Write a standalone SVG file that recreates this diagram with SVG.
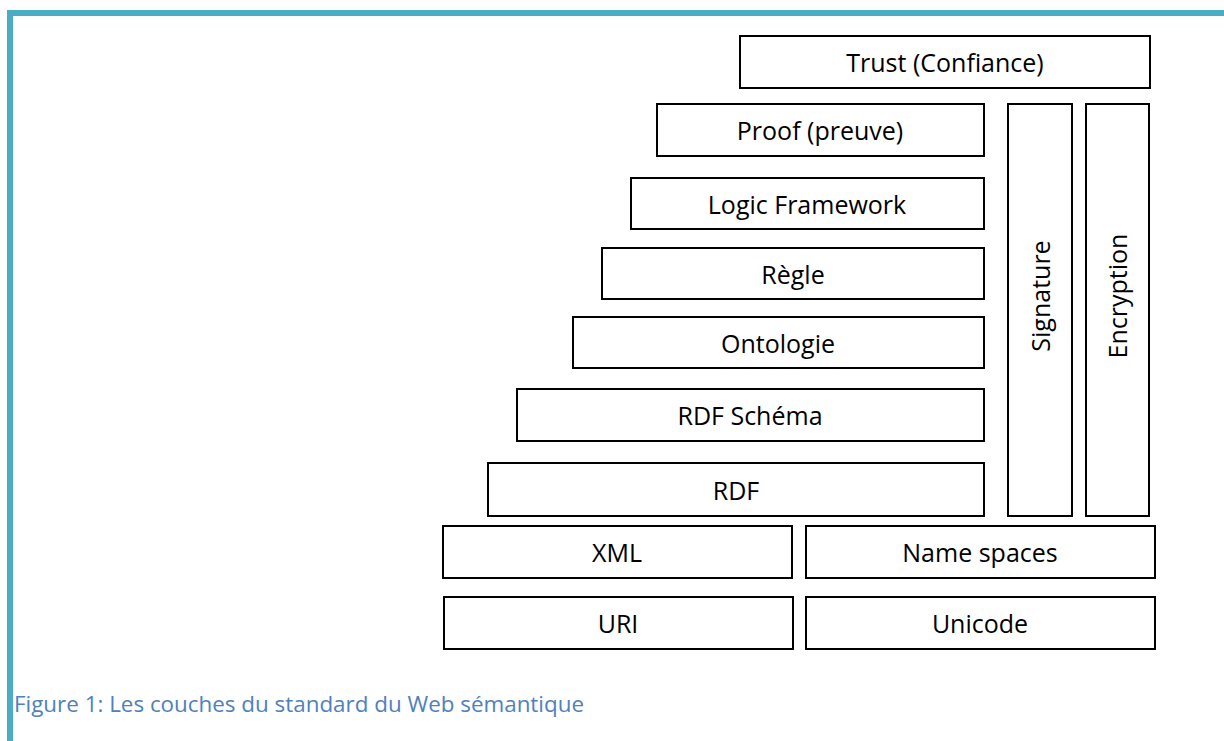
<svg xmlns="http://www.w3.org/2000/svg" width="1224" height="741" viewBox="0 0 1224 741">
<style>
.b{fill:#fff;stroke:#000;stroke-width:2}
.t{font-family:"Open Sans","Liberation Sans",sans-serif;font-size:25px;fill:#000;text-anchor:middle;dominant-baseline:central}
.cap{font-family:"Open Sans","Liberation Sans",sans-serif;font-size:22.4px;fill:#4F81BD}
</style>
<rect x="0" y="0" width="1224" height="741" fill="#fff"/>
<rect x="7" y="10" width="1217" height="6" fill="#4BACC6"/>
<rect x="7" y="10" width="6" height="731" fill="#4BACC6"/>
<g id="trust"><rect class="b" x="740" y="36" width="410" height="52"/><text class="t" x="945" y="62">Trust (Confiance)</text></g>
<g id="proof"><rect class="b" x="657" y="104" width="327" height="52"/><text class="t" x="820" y="130">Proof (preuve)</text></g>
<g id="logic"><rect class="b" x="631" y="178" width="353" height="51"/><text class="t" x="807" y="204">Logic Framework</text></g>
<g id="regle"><rect class="b" x="602" y="248" width="382" height="51"/><text class="t" x="793" y="274">Règle</text></g>
<g id="ontologie"><rect class="b" x="573" y="317" width="411" height="51"/><text class="t" x="778" y="343">Ontologie</text></g>
<g id="rdfs"><rect class="b" x="517" y="389" width="467" height="52"/><text class="t" x="750" y="415">RDF Schéma</text></g>
<g id="rdf"><rect class="b" x="488" y="463" width="496" height="53"/><text class="t" x="736" y="490">RDF</text></g>
<g id="signature"><rect class="b" x="1008" y="104" width="64" height="412"/><text class="t" transform="translate(1040,296) rotate(-90)">Signature</text></g>
<g id="encryption"><rect class="b" x="1086" y="104" width="63" height="412"/><text class="t" transform="translate(1117,296) rotate(-90)">Encryption</text></g>
<g id="xml"><rect class="b" x="443" y="526" width="349" height="52"/><text class="t" x="617" y="552">XML</text></g>
<g id="namespaces"><rect class="b" x="806" y="526" width="349" height="52"/><text class="t" x="980" y="552">Name spaces</text></g>
<g id="uri"><rect class="b" x="444" y="597" width="349" height="52"/><text class="t" x="618" y="623">URI</text></g>
<g id="unicode"><rect class="b" x="806" y="597" width="349" height="52"/><text class="t" x="980" y="623">Unicode</text></g>
<g id="connectors"/>
<text class="cap" x="14" y="712">Figure 1: Les couches du standard du Web sémantique</text>
</svg>
